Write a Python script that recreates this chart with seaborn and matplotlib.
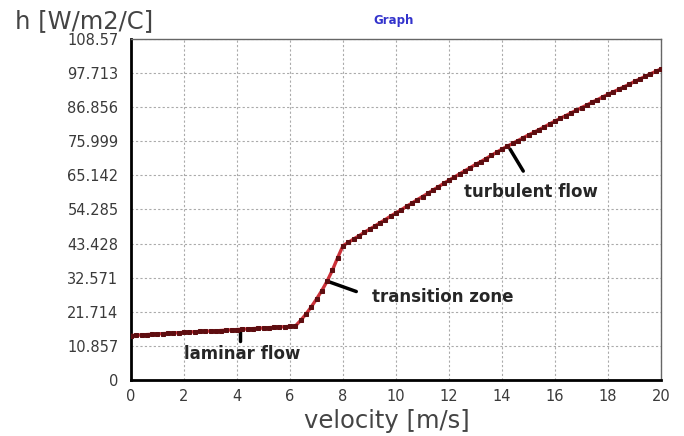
import matplotlib
matplotlib.use('Agg')
import matplotlib.pyplot as plt
import seaborn as sns
import pandas as pd

# hastighed [m/s] og varmeovergangstal h [W/m2/C]
velocity = [0.0, 0.2, 0.4, 0.6, 0.8, 1.0, 1.2, 1.4, 1.6, 1.8,
            2.0, 2.2, 2.4, 2.6, 2.8, 3.0, 3.2, 3.4, 3.6, 3.8,
            4.0, 4.2, 4.4, 4.6, 4.8, 5.0, 5.2, 5.4, 5.6, 5.8,
            6.0, 6.2, 6.4, 6.6, 6.8, 7.0, 7.2, 7.4, 7.6, 7.8,
            8.0, 8.2, 8.4, 8.6, 8.8, 9.0, 9.2, 9.4, 9.6, 9.8,
            10.0, 10.2, 10.4, 10.6, 10.8, 11.0, 11.2, 11.4, 11.6, 11.8,
            12.0, 12.2, 12.4, 12.6, 12.8, 13.0, 13.2, 13.4, 13.6, 13.8,
            14.0, 14.2, 14.4, 14.6, 14.8, 15.0, 15.2, 15.4, 15.6, 15.8,
            16.0, 16.2, 16.4, 16.6, 16.8, 17.0, 17.2, 17.4, 17.6, 17.8,
            18.0, 18.2, 18.4, 18.6, 18.8, 19.0, 19.2, 19.4, 19.6, 19.8,
            20.0]
h_values = [14.2, 14.3, 14.4, 14.5, 14.6, 14.7, 14.8, 14.9, 15.0, 15.1,
            15.2, 15.3, 15.4, 15.5, 15.6, 15.6, 15.7, 15.8, 15.9, 16.0,
            16.1, 16.2, 16.3, 16.4, 16.5, 16.6, 16.7, 16.8, 16.9, 17.0,
            17.1, 17.2, 19.0, 21.0, 23.3, 25.8, 28.5, 31.5, 35.0, 39.0,
            42.8, 43.8, 44.9, 45.9, 47.0, 48.0, 49.0, 50.1, 51.1, 52.2,
            53.2, 54.2, 55.3, 56.3, 57.4, 58.4, 59.4, 60.5, 61.5, 62.6,
            63.6, 64.6, 65.6, 66.6, 67.6, 68.6, 69.5, 70.5, 71.5, 72.5,
            73.5, 74.4, 75.3, 76.2, 77.1, 78.0, 78.8, 79.7, 80.6, 81.5,
            82.4, 83.3, 84.1, 85.0, 85.8, 86.7, 87.5, 88.4, 89.2, 90.1,
            90.9, 91.7, 92.5, 93.3, 94.1, 95.0, 95.8, 96.6, 97.4, 98.2,
            99.0]

x_ticks = [0, 2, 4, 6, 8, 10, 12, 14, 16, 18, 20]
y_ticks = [0, 10.857, 21.714, 32.571, 43.428, 54.285, 65.142, 75.999, 86.856, 97.713, 108.57]
y_tick_labels = ['0', '10.857', '21.714', '32.571', '43.428', '54.285', '65.142',
                 '75.999', '86.856', '97.713', '108.57']

df = pd.DataFrame({'velocity': velocity, 'h': h_values})

sns.set_style('white')
plt.rcParams['font.family'] = ['DejaVu Sans']

fig = plt.figure(figsize=(6.84, 4.36), dpi=100)
ax = fig.add_axes([0.1915, 0.128, 0.775, 0.783])

sns.lineplot(data=df, x='velocity', y='h', ax=ax, color='#cc3038', linewidth=2.4,
             marker='s', markersize=3.2, markerfacecolor='#5e0d10',
             markeredgecolor='#5e0d10', zorder=3)

ax.set_xlim(0, 20)
ax.set_ylim(0, 108.57)
ax.set_xticks(x_ticks)
ax.set_yticks(y_ticks)
ax.set_yticklabels(y_tick_labels)
ax.tick_params(axis='both', labelsize=10.5, colors='#3a3a3a', length=3, direction='out')
ax.tick_params(axis='y', pad=6)
ax.grid(True, color='#aaaaaa', linestyle=(0, (2, 2)), linewidth=0.8)

for side in ['left', 'bottom']:
    ax.spines[side].set_linewidth(2)
    ax.spines[side].set_color('black')
for side in ['top', 'right']:
    ax.spines[side].set_linewidth(1)
    ax.spines[side].set_color('#666666')

ax.set_xlabel('velocity [m/s]', fontsize=17.5, color='#444444', labelpad=2)
ax.xaxis.set_label_coords(0.483, -0.085)
ax.set_ylabel('')
fig.text(0.022, 0.935, 'h [W/m2/C]', fontsize=17.5, color='#444444')
fig.text(0.575, 0.945, 'Graph', fontsize=8.5, fontweight='bold', color='#3333cc', ha='center')

# annotationer
ax.plot([4.1, 4.1], [16.3, 12.6], color='black', lw=2.5)
ax.text(4.2, 8.3, 'laminar flow', fontsize=12, fontweight='bold', ha='center', va='center')
ax.plot([7.4, 8.5], [31.5, 28.2], color='black', lw=2.5)
ax.text(9.1, 26.4, 'transition zone', fontsize=12, fontweight='bold', ha='left', va='center')
ax.plot([14.3, 14.8], [73.5, 66.5], color='black', lw=2.5)
ax.text(15.1, 60.0, 'turbulent flow', fontsize=12, fontweight='bold', ha='center', va='center')

plt.savefig('out.png', dpi=100)
plt.close()
